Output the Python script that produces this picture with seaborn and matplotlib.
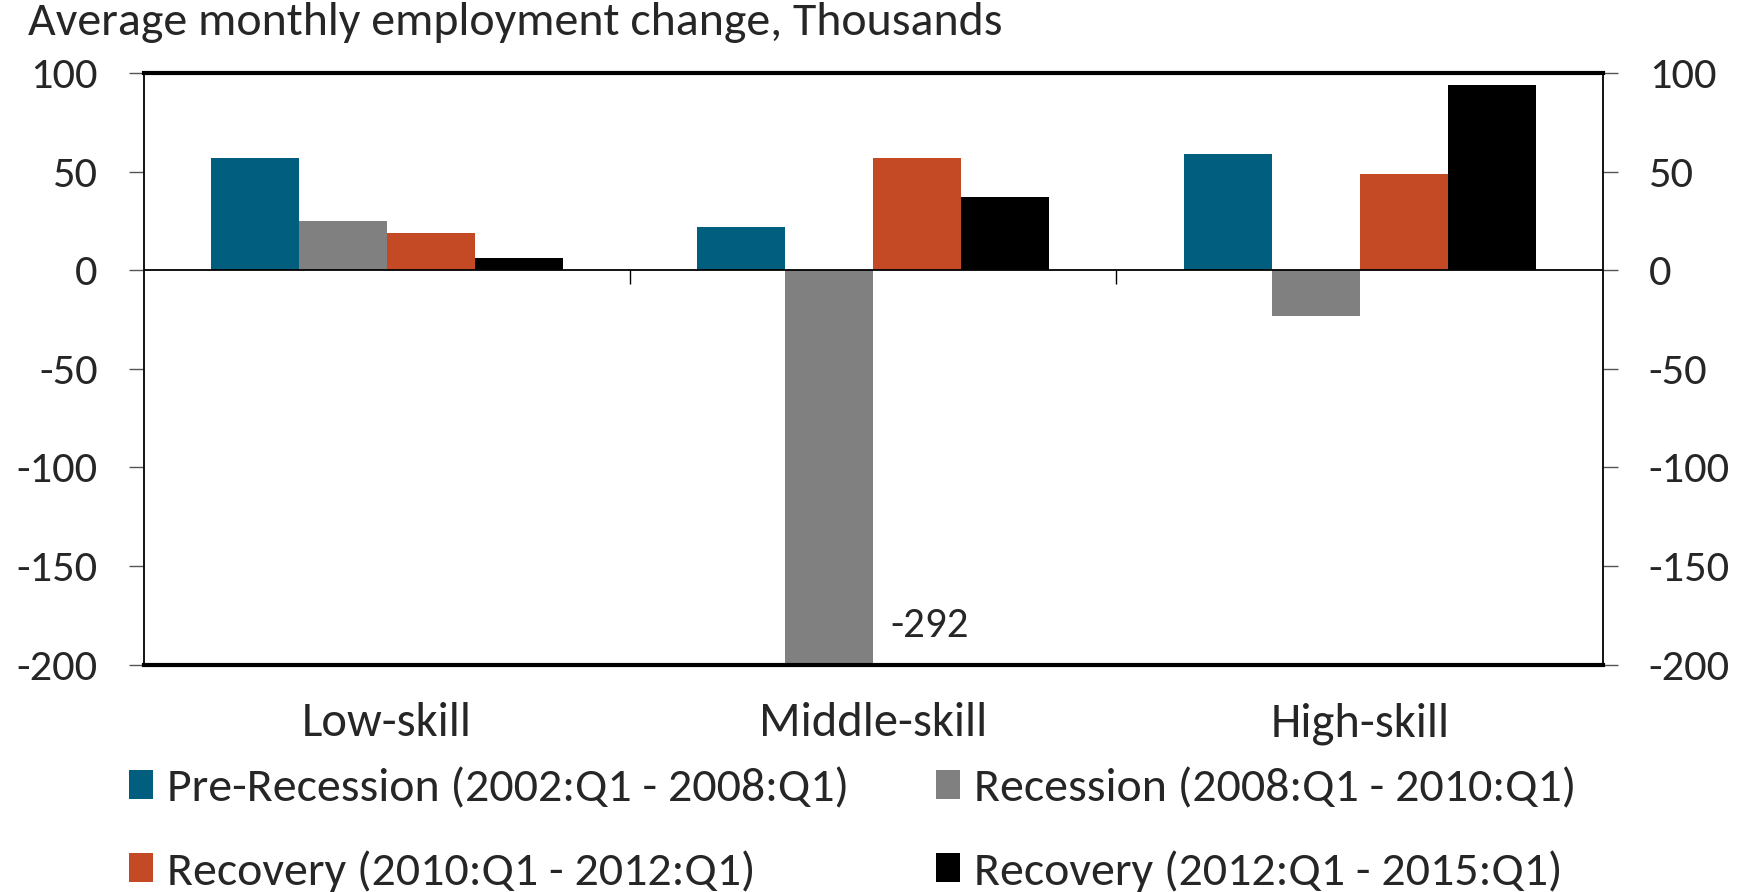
import numpy as np
import pandas as pd
import matplotlib
matplotlib.use("Agg")
import matplotlib.pyplot as plt
import seaborn as sns
from matplotlib.patches import Patch

categories = ["Low-skill", "Middle-skill", "High-skill"]
periods = [
    "Pre-Recession (2002:Q1 - 2008:Q1)",
    "Recession (2008:Q1 - 2010:Q1)",
    "Recovery (2010:Q1 - 2012:Q1)",
    "Recovery (2012:Q1 - 2015:Q1)",
]
pre_recession = [57, 22, 59]
recession = [25, -292, -23]
recovery_1 = [19, 57, 49]
recovery_2 = [6, 37, 94]
colors = ["#015E7E", "#808080", "#C34A25", "#000000"]

df = pd.DataFrame({
    "skill": categories * 4,
    "period": np.repeat(periods, 3),
    "value": pre_recession + recession + recovery_1 + recovery_2,
})

sns.set_style("white")
plt.rcParams["font.family"] = ["Carlito", "Lato", "DejaVu Sans"]
plt.rcParams["axes.unicode_minus"] = False

fig = plt.figure(figsize=(17.5, 8.92), dpi=100)
ax = fig.add_axes([0.082, 0.255, 0.834, 0.663])

sns.barplot(data=df, x="skill", y="value", hue="period", order=categories,
            hue_order=periods, palette=colors, width=0.724, saturation=1,
            ax=ax, legend=False, linewidth=0)

ax.set_xlim(-0.5, len(categories) - 0.5)
ax.set_ylim(-200, 100)
ax.set_yticks(np.arange(-200, 101, 50))
ax.set_xlabel("")
ax.set_ylabel("")

# zero line with category separators
ax.axhline(0, color="black", lw=1.3, zorder=3)
sep = np.arange(len(categories) - 1) + 0.5
ax.vlines(sep, -7, 0, color="black", lw=1.0, zorder=3)

for side in ["top", "bottom"]:
    ax.spines[side].set_linewidth(3)
    ax.spines[side].set_color("black")
for side in ["left", "right"]:
    ax.spines[side].set_linewidth(1.3)
    ax.spines[side].set_color("black")
    ax.spines[side].set_visible(True)

ax.tick_params(axis="y", which="major", direction="out", length=11, width=1,
               left=True, right=True, labelleft=True, labelright=True,
               labelsize=32, pad=22, color="#555555")
ax.tick_params(axis="x", length=0, labelsize=35, pad=27)

# label for clipped recession bar in middle-skill
mid_bar = ax.containers[1][1]
ax.text(mid_bar.get_x() + mid_bar.get_width() * 1.2, -180,
        f"{recession[1]}", fontsize=31, va="center", ha="left")

fig.text(0.016, 0.975, "Average monthly employment change, Thousands",
         fontsize=34.5, va="center", ha="left")

# legend filled row by row
order = [0, 2, 1, 3]
handles = [Patch(facecolor=colors[i], edgecolor="none") for i in order]
labels = [periods[i] for i in order]
fig.legend(handles, labels, ncol=2, loc="upper left",
           bbox_to_anchor=(0.0737, 0.139), frameon=False, fontsize=34.5,
           handlelength=0.5, handleheight=0.55, handletextpad=0.3,
           columnspacing=1.8, labelspacing=0.85, borderaxespad=0, borderpad=0)

fig.savefig("out.png", dpi=100)
